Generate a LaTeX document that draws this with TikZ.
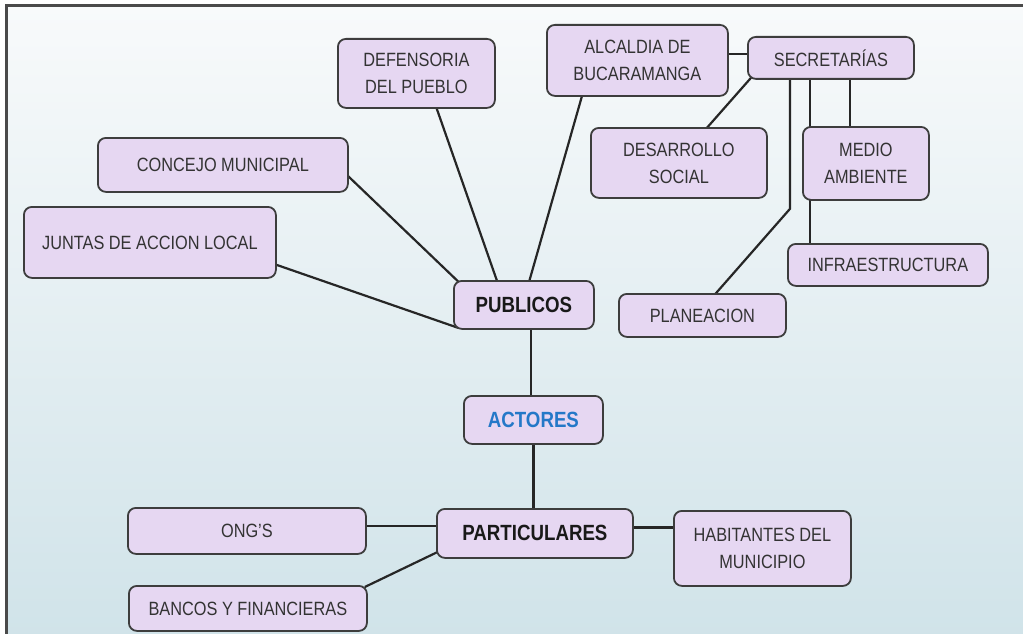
\documentclass[tikz,border=0pt]{standalone}
\usepackage{fontspec}
\setmainfont{Liberation Sans}[FakeStretch=0.85]
\usetikzlibrary{calc}
\definecolor{boxfill}{HTML}{E6D7F2}
\definecolor{boxline}{HTML}{3D3D3D}
\definecolor{txtgrey}{HTML}{333333}
\definecolor{bgtop}{HTML}{F8FAFB}
\definecolor{bgbot}{HTML}{D0E3E9}
\definecolor{actblue}{HTML}{2478C8}
\definecolor{linecol}{HTML}{262626}
\definecolor{framecol}{HTML}{4A4A4A}
\pgfdeclarelayer{bg}\pgfdeclarelayer{lines}\pgfsetlayers{bg,lines,main}
\begin{document}
\begin{tikzpicture}[x=1pt,y=-1pt,
 box/.style={draw=boxline, fill=boxfill, rounded corners=8pt, line width=1.8pt, inner sep=0pt, anchor=north west, align=center, text=txtgrey, font=\fontsize{19.2}{27}\selectfont},
 mainbox/.style={box, text=black!90, font=\fontsize{22}{25}\selectfont\bfseries},
 link/.style={draw=linecol, line width=2.2pt}]
\useasboundingbox (0,0) rectangle (1023,634);
\begin{pgfonlayer}{bg}
\fill[white] (0,0) rectangle (1023,634);
\shade[top color=bgtop, bottom color=bgbot] (6.5,5.5) rectangle (1030,640);
\draw[line width=2.5pt, draw=framecol] (6.5,640) -- (6.5,5.5) -- (1030,5.5);
\end{pgfonlayer}
% nodes
\node[box, minimum width=157pt, minimum height=69pt] (def) at (337,38) {DEFENSORIA\\DEL PUEBLO};
\node[box, minimum width=181pt, minimum height=71pt] (alc) at (546,24) {ALCALDIA DE\\BUCARAMANGA};
\node[box, minimum width=166pt, minimum height=42pt] (sec) at (747,36) {SECRETARÍAS};
\node[box, minimum width=176pt, minimum height=70pt] (des) at (590,127) {DESARROLLO\\SOCIAL};
\node[box, minimum width=126pt, minimum height=73pt] (med) at (802,126) {MEDIO\\AMBIENTE};
\node[box, minimum width=200pt, minimum height=42pt] (inf) at (787,243) {INFRAESTRUCTURA};
\node[box, minimum width=167pt, minimum height=43pt] (pla) at (618,293) {PLANEACION};
\node[box, minimum width=250pt, minimum height=54pt] (con) at (97,137) {CONCEJO MUNICIPAL};
\node[box, minimum width=252pt, minimum height=71pt] (jun) at (23,206) {JUNTAS DE ACCION LOCAL};
\node[mainbox, minimum width=140pt, minimum height=48pt] (pub) at (453,280) {PUBLICOS};
\node[mainbox, text=actblue, minimum width=139pt, minimum height=48pt] (act) at (463,395) {ACTORES};
\node[mainbox, minimum width=196pt, minimum height=49pt] (par) at (436,508) {PARTICULARES};
\node[box, minimum width=238pt, minimum height=46pt] (ong) at (127,507) {ONG’S};
\node[box, minimum width=238pt, minimum height=45pt] (ban) at (128,585) {BANCOS Y FINANCIERAS};
\node[box, minimum width=177pt, minimum height=75pt] (hab) at (673,510) {HABITANTES DEL\\MUNICIPIO};
% connectors
\begin{pgfonlayer}{lines}
\draw[link] ($(con.east)+(-3,9)$) -- ($(pub.north west)+(13,9)$);
\draw[link] ($(jun.east)+(-3,21.5)$) -- ($(pub.south west)+(5,-2)$);
\draw[link] ($(def.south)+(19,-4)$) -- ($(pub.north)+(-23,12)$);
\draw[link] ($(alc.south)+(-54.5,-4)$) -- ($(pub.north)+(2,13)$);
\draw[link] ($(act.north)+(-2.5,2)$) -- ($(pub.south)+(7,-2)$);
\draw[link] ($(act.south)+(0,-2)$) -- ($(par.north)+(-1.5,2)$);
\draw[link] ($(ong.east)+(-2,-5)$) -- ($(par.west)+(2,-7.5)$);
\draw[link] ($(ban.north east)+(-3,2)$) -- ($(par.south west)+(2,-7)$);
\draw[link] ($(par.east)+(-2,-6)$) -- ($(hab.west)+(2,-21)$);
\draw[link] ($(alc.east)+(-2,-6.5)$) -- ($(sec.west)+(2,-4)$);
\draw[link] ($(sec.south west)+(4,-2)$) -- ($(des.north)+(27,2)$);
\draw[link] ($(sec.south)+(19,-2)$) -- ($(med.north)+(-16,2)$);
\draw[link] ($(sec.south west)+(63,-2)$) -- ($(inf.north west)+(23,2)$);
\draw[link] ($(sec.south west)+(43,-2)$) -- ++(0,131) -- ($(pla.north)+(12,2)$);
\end{pgfonlayer}
\end{tikzpicture}
\end{document}
